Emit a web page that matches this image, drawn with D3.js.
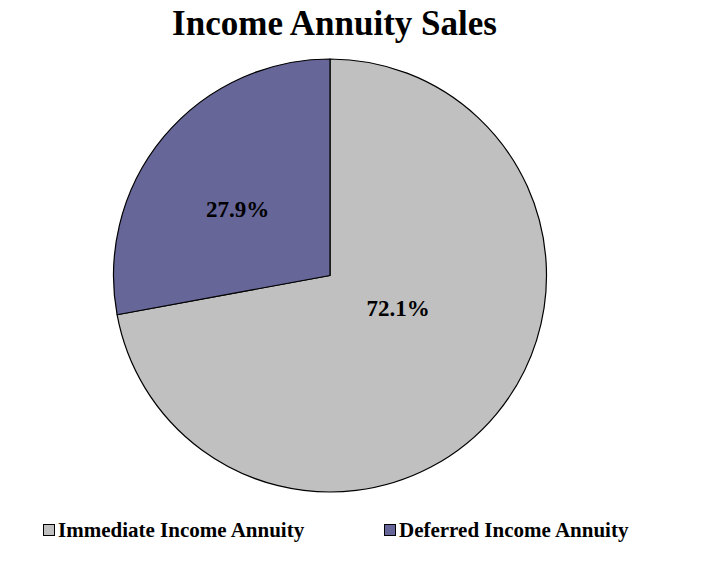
<!DOCTYPE html>
<html><head><meta charset="utf-8">
<script src="https://cdnjs.cloudflare.com/ajax/libs/d3/7.8.5/d3.min.js"></script>
<style>html,body{margin:0;padding:0;background:#fff;}</style>
</head><body>
<svg id="chart" width="721" height="562"></svg>
<script>
const title = "Income Annuity Sales";
const categories = ["Immediate Income Annuity", "Deferred Income Annuity"];
const values = [72.1, 27.9];
const labels = ["72.1%", "27.9%"];
const colors = ["#C0C0C0", "#666699"];

const svg = d3.select("#chart");
const font = "'Liberation Serif','Times New Roman',serif";
const cx = 330, cy = 275.5, r = 216.5;

svg.append("text").attr("x", 334.5).attr("y", 35)
  .attr("text-anchor", "middle").attr("font-family", font)
  .attr("font-weight", "bold").attr("font-size", 35).attr("fill", "#000").text(title);

const pie = d3.pie().sort(null).value(d => d)(values);
const arc = d3.arc().innerRadius(0).outerRadius(r);
const g = svg.append("g").attr("transform", `translate(${cx},${cy})`);
g.selectAll("path").data(pie).join("path")
  .attr("d", arc).attr("fill", (d, i) => colors[i])
  .attr("stroke", "#000").attr("stroke-width", 1.2).attr("stroke-linejoin", "round");

// label placement: radial fraction and angle shift per slice
const labelPos = [{f: 0.348, da: -0.25}, {f: 0.527, da: -0.066}];
g.selectAll("text.lbl").data(pie).join("text").attr("class", "lbl")
  .attr("transform", (d, i) => {
    const a = (d.startAngle + d.endAngle) / 2 + labelPos[i].da;
    const rr = r * labelPos[i].f;
    return `translate(${Math.sin(a) * rr},${-Math.cos(a) * rr})`;
  })
  .attr("text-anchor", "middle").attr("dy", "0.35em")
  .attr("font-family", font).attr("font-weight", "bold").attr("font-size", 23)
  .attr("fill", "#000").text((d, i) => labels[i]);

const legX = [43, 384];
const leg = svg.append("g");
categories.forEach((c, i) => {
  leg.append("rect").attr("x", legX[i] + 0.5).attr("y", 524.5).attr("width", 11).attr("height", 11)
    .attr("fill", colors[i]).attr("stroke", "#000").attr("stroke-width", 1);
  leg.append("text").attr("x", legX[i] + 15).attr("y", 537)
    .attr("font-family", font).attr("font-weight", "bold").attr("font-size", 21)
    .attr("fill", "#000").text(c);
});
</script>
</body></html>
